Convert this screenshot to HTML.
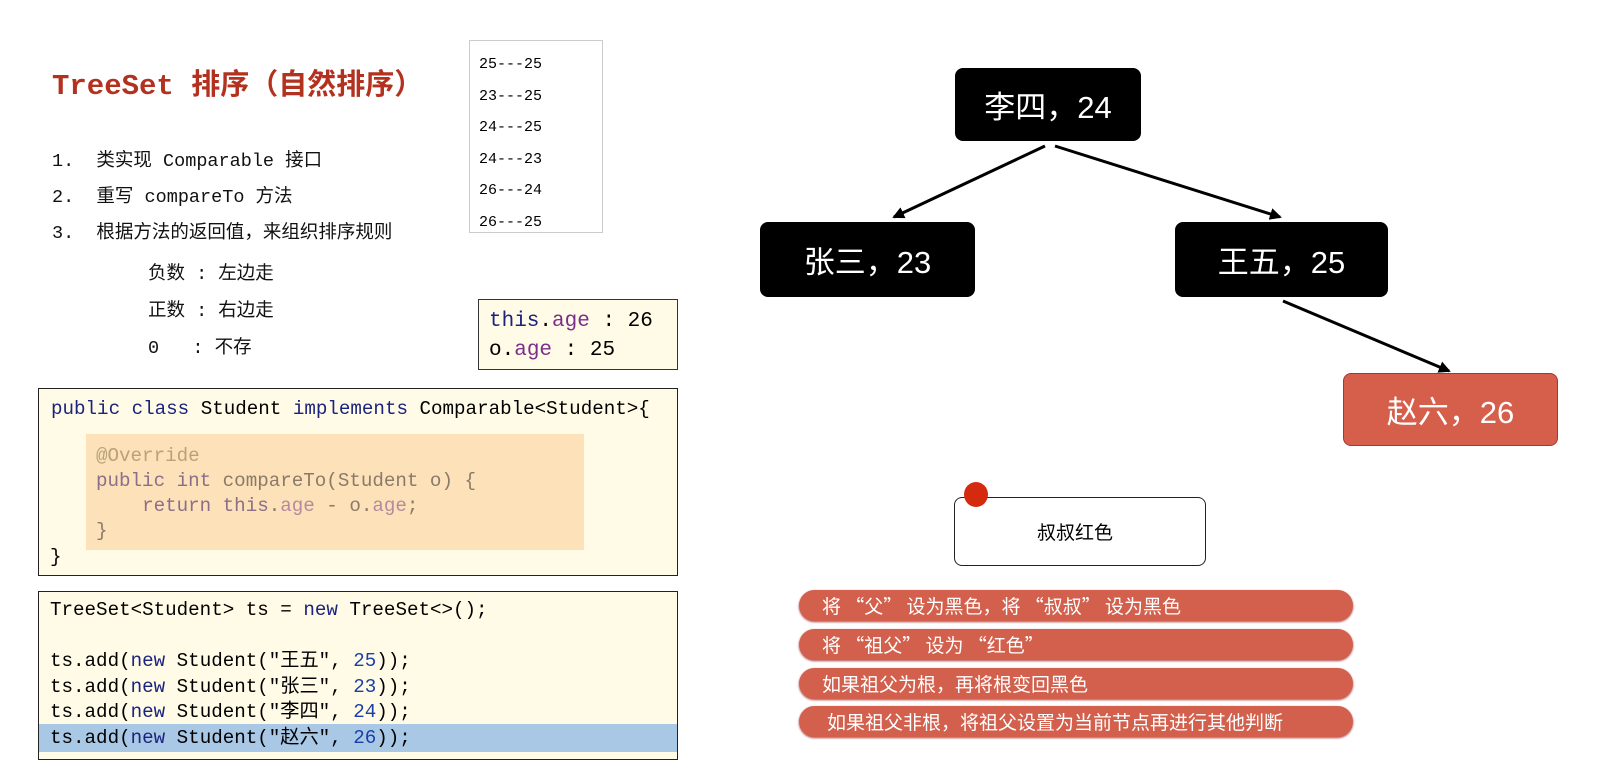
<!DOCTYPE html>
<html><head><meta charset="utf-8"><style>
body{margin:0;width:1615px;height:783px;background:#fff;position:relative;overflow:hidden;font-family:"Liberation Sans","Noto Sans CJK SC",sans-serif}
.a{position:absolute}
.mono{font-family:"Liberation Mono","Noto Sans CJK SC",monospace}
.node{position:absolute;background:#000;color:#fff;border-radius:8px;font-size:31px;display:flex;align-items:center;justify-content:center;font-family:"Liberation Sans","Noto Sans CJK SC",sans-serif}
.pill{position:absolute;left:799px;width:554px;height:31px;background:#d2604d;border-radius:16px;color:#fff;font-size:19px;line-height:31px;padding-left:23px;box-sizing:border-box;box-shadow:0 1px 2px #a44;font-family:"Noto Sans CJK SC",sans-serif}
.kw{color:#1a237e}
.code{font-size:19.2px;line-height:25px}
</style></head><body>
<div class="a mono" style="left:52px;top:61px;font-size:29px;font-weight:bold;color:#b2321f">TreeSet 排序（自然排序）</div>
<div class="a mono" style="left:52px;top:144px;font-size:18.5px;line-height:36px;color:#111">
1.&nbsp;&nbsp;类实现 Comparable 接口<br>2.&nbsp;&nbsp;重写 compareTo 方法<br>3.&nbsp;&nbsp;根据方法的返回值，来组织排序规则</div>
<div class="a mono" style="left:148px;top:256px;font-size:18.5px;line-height:37px;color:#111">负数 : 左边走<br>正数 : 右边走<br>0&nbsp;&nbsp;&nbsp;: 不存</div>
<div class="a mono" style="left:469px;top:40px;width:134px;height:193px;border:1px solid #ccc;box-sizing:border-box;padding:8px 0 0 9px;font-size:15px;line-height:31.5px">25---25<br>23---25<br>24---25<br>24---23<br>26---24<br>26---25</div>
<div class="a mono" style="left:478px;top:299px;width:200px;height:71px;border:1px solid #333;box-sizing:border-box;background:#fffbe6;padding:7px 0 0 10px;font-size:21px;line-height:29px"><span class="kw">this</span>.<span style="color:#7b2d8b">age</span> : 26<br>o.<span style="color:#7b2d8b">age</span> : 25</div>
<div class="a mono code" style="left:38px;top:388px;width:640px;height:188px;border:1px solid #222;box-sizing:border-box;background:#fffbe6;padding:8px 0 0 12px">
<span class="kw">public class</span> Student <span class="kw">implements</span> Comparable&lt;Student&gt;{</div>
<div class="a mono code" style="left:86px;top:434px;width:498px;height:116px;background:#fde1b8;padding:10px 0 0 10px;box-sizing:border-box;color:#8a7a6a;line-height:25px">
<span style="color:#b8a27a">@Override</span><br><span style="color:#8b6f8a">public int</span> compareTo(Student o) {<br>&nbsp;&nbsp;&nbsp;&nbsp;<span style="color:#8b6f8a">return this</span>.<span style="color:#b58aa0">age</span> - o.<span style="color:#b58aa0">age</span>;<br>}</div>
<div class="a mono code" style="left:50px;top:545px">}</div>
<div class="a mono code" style="left:38px;top:591px;width:640px;height:169px;border:1px solid #222;box-sizing:border-box;background:#fffbe6"></div>
<div class="a" style="left:39px;top:724px;width:638px;height:28px;background:#a9c8e6"></div>
<div class="a mono code" style="left:50px;top:598px;line-height:25.5px">TreeSet&lt;Student&gt; ts = <span class="kw">new</span> TreeSet&lt;&gt;();<br><br>ts.add(<span class="kw">new</span> Student("王五", <span style="color:#1a3fa8">25</span>));<br>ts.add(<span class="kw">new</span> Student("张三", <span style="color:#1a3fa8">23</span>));<br>ts.add(<span class="kw">new</span> Student("李四", <span style="color:#1a3fa8">24</span>));<br>ts.add(<span class="kw">new</span> Student("赵六", <span style="color:#1a3fa8">26</span>));</div>
<svg class="a" style="left:0;top:0" width="1615" height="783">
<defs><marker id="m" markerWidth="12" markerHeight="12" refX="10" refY="6" orient="auto" markerUnits="userSpaceOnUse"><path d="M0,0 L12,6 L0,12 z" fill="#000"/></marker></defs>
<g stroke="#000" stroke-width="3" fill="none">
<line x1="1045" y1="146" x2="894" y2="217" marker-end="url(#m)"/>
<line x1="1055" y1="146" x2="1280" y2="217" marker-end="url(#m)"/>
<line x1="1283" y1="301" x2="1449" y2="371" marker-end="url(#m)"/>
</g></svg>
<div class="node" style="left:955px;top:68px;width:186px;height:73px">李四，24</div>
<div class="node" style="left:760px;top:222px;width:215px;height:75px">张三，23</div>
<div class="node" style="left:1175px;top:222px;width:213px;height:75px">王五，25</div>
<div class="node" style="left:1343px;top:373px;width:215px;height:73px;background:#d65f4c;border:1px solid #a33;box-sizing:border-box">赵六，26</div>
<div class="a" style="left:954px;top:497px;width:252px;height:69px;border:1px solid #222;border-radius:8px;box-sizing:border-box;font-size:19px;display:flex;align-items:center;justify-content:center;padding-right:10px">叔叔红色</div>
<div class="a" style="left:964px;top:482px;width:24px;height:25px;border-radius:50%;background:#d42a0e"></div>
<div class="pill" style="top:590px">将 “父” 设为黑色，将 “叔叔” 设为黑色</div>
<div class="pill" style="top:629px">将 “祖父” 设为 “红色”</div>
<div class="pill" style="top:668px">如果祖父为根，再将根变回黑色</div>
<div class="pill" style="top:706px;padding-left:28px">如果祖父非根，将祖父设置为当前节点再进行其他判断</div>
</body></html>
